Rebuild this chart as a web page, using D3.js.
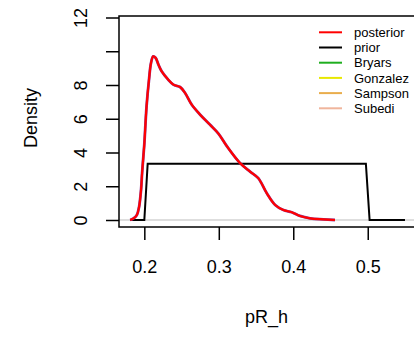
<!DOCTYPE html>
<html>
<head>
<meta charset="utf-8">
<script src="https://cdn.jsdelivr.net/npm/d3@7"></script>
<style>
  body { margin: 0; background: #fff; }
  svg { display: block; font-family: "Liberation Sans", Arial, sans-serif; }
</style>
</head>
<body>
<svg width="414" height="337"></svg>
<script>
// posterior density
var posteriorX = [0.181, 0.185, 0.19, 0.193, 0.1956, 0.197, 0.1987, 0.2, 0.203, 0.2063, 0.209, 0.212, 0.2153, 0.219, 0.2233, 0.232, 0.239, 0.248, 0.2547, 0.2637, 0.275, 0.2883, 0.2995, 0.311, 0.3286, 0.342, 0.353, 0.3645, 0.3757, 0.3868, 0.398, 0.409, 0.4227, 0.4406, 0.456];
var posteriorY = [0, 0.08, 0.3, 0.79, 1.78, 2.77, 3.76, 4.5, 6.73, 8.32, 9.31, 9.7, 9.6, 9.2, 8.81, 8.32, 8.02, 7.88, 7.53, 6.83, 6.24, 5.64, 5.12, 4.36, 3.37, 2.87, 2.48, 1.58, 0.89, 0.59, 0.46, 0.24, 0.1, 0.04, 0];

// uniform prior on 0.2 .. 0.5
var priorX = [0.181, 0.2, 0.2045, 0.4975, 0.5025, 0.55];
var priorY = [0, 0, 3.333, 3.333, 0, 0];

var legendLabels = ["posterior", "prior", "Bryars", "Gonzalez", "Sampson", "Subedi"];
var legendColors = ["#ff0000", "#000000", "#1fae1f", "#e8e800", "#e9ad4c", "#f0b59c"];

var xTicks = [0.2, 0.3, 0.4, 0.5];
var yTicks = [0, 2, 4, 6, 8, 10, 12];
var yTickLabels = ["0", "2", "4", "6", "8", "", "12"];

var svg = d3.select("svg");

var x = d3.scaleLinear().domain([0.166, 0.5648]).range([119, 416]);
var y = d3.scaleLinear().domain([0, 12]).range([220, 17.5]);

var boxTop = 16, boxBottom = 227;

// zero line
svg.append("line")
    .attr("x1", x.range()[0]).attr("x2", x.range()[1])
    .attr("y1", y(0)).attr("y2", y(0))
    .attr("stroke", "#bebebe")
    .attr("stroke-width", 1.2);

var line = d3.line()
    .x(function(d) { return x(d[0]); })
    .y(function(d) { return y(d[1]); });

svg.append("path")
    .datum(d3.zip(priorX, priorY))
    .attr("d", line)
    .attr("fill", "none")
    .attr("stroke", "#000")
    .attr("stroke-width", 2);

var smooth = d3.line()
    .curve(d3.curveCatmullRom.alpha(0.5))
    .x(function(d) { return x(d[0]); })
    .y(function(d) { return y(d[1]); });

// purple edge under the red line, as in the original
svg.append("path")
    .datum(d3.zip(posteriorX, posteriorY))
    .attr("d", smooth)
    .attr("fill", "none")
    .attr("stroke", "#8a3a9a")
    .attr("stroke-width", 2.8);

svg.append("path")
    .datum(d3.zip(posteriorX, posteriorY))
    .attr("d", smooth)
    .attr("fill", "none")
    .attr("stroke", "#ff0000")
    .attr("stroke-width", 2.2);

// plot box
svg.append("rect")
    .attr("x", x.range()[0])
    .attr("y", boxTop)
    .attr("width", x.range()[1] - x.range()[0])
    .attr("height", boxBottom - boxTop)
    .attr("fill", "none")
    .attr("stroke", "#000")
    .attr("stroke-width", 1.5);

// x axis
var xAxis = svg.append("g")
    .attr("transform", "translate(0," + boxBottom + ")")
    .call(d3.axisBottom(x).tickValues(xTicks).tickSize(13).tickPadding(20).tickFormat(d3.format(".1f")));
xAxis.select(".domain").remove();
xAxis.selectAll("line").attr("stroke", "#000").attr("stroke-width", 1.5);
xAxis.selectAll("text")
    .attr("fill", "#000")
    .attr("dy", null)
    .attr("y", 46)
    .style("font-size", "18px");

// y axis
var yAxis = svg.append("g")
    .attr("transform", "translate(" + x.range()[0] + ",0)")
    .call(d3.axisLeft(y).tickValues(yTicks).tickSize(13).tickFormat(function(d, i) { return yTickLabels[i]; }));
yAxis.select(".domain").remove();
yAxis.selectAll("line").attr("stroke", "#000").attr("stroke-width", 1.5);
yAxis.selectAll("text")
    .attr("fill", "#000")
    .attr("x", null).attr("dy", null)
    .attr("text-anchor", "middle")
    .attr("transform", "translate(-32,0) rotate(-90)")
    .style("font-size", "18px");

// axis titles
svg.append("text")
    .attr("x", 266.5)
    .attr("y", 323)
    .attr("text-anchor", "middle")
    .style("font-size", "18px")
    .text("pR_h");

svg.append("text")
    .attr("transform", "translate(37,118) rotate(-90)")
    .attr("text-anchor", "middle")
    .style("font-size", "18px")
    .text("Density");

// legend
var legend = svg.append("g").selectAll("g")
    .data(legendLabels)
    .enter().append("g")
    .attr("transform", function(d, i) { return "translate(319," + (32.3 + i * 15.2) + ")"; });

legend.append("line")
    .attr("x1", 0).attr("x2", 23)
    .attr("stroke", function(d, i) { return legendColors[i]; })
    .attr("stroke-width", 2);

legend.append("text")
    .attr("x", 35)
    .attr("y", 4.6)
    .style("font-size", "13px")
    .text(function(d) { return d; });
</script>
</body>
</html>
